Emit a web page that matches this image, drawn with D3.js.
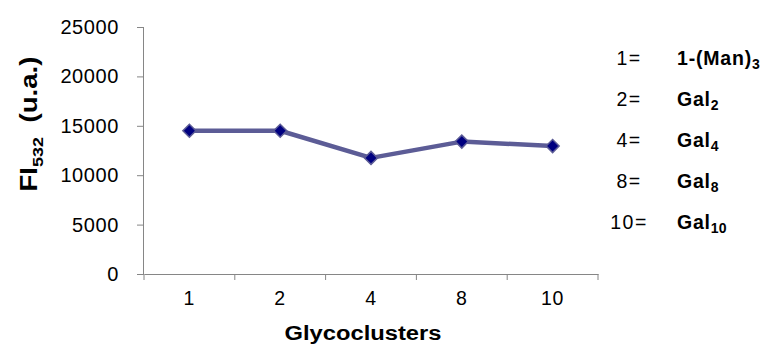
<!DOCTYPE html>
<html>
<head>
<meta charset="utf-8">
<script src="https://cdn.jsdelivr.net/npm/d3@7"></script>
<style>
  html, body { margin: 0; padding: 0; background: #fff; }
  svg { display: block; }
  text { font-family: "Liberation Sans", Arial, sans-serif; fill: #000; }
</style>
</head>
<body>
<svg id="chart" width="773" height="345"></svg>
<script>
const categories = ["1", "2", "4", "8", "10"];
const values = [14500, 14500, 11750, 13400, 12950];
const yTicks = [0, 5000, 10000, 15000, 20000, 25000];
const legendKeys = ["1=", "2=", "4=", "8=", "10="];
const legendNames = ["1-(Man)", "Gal", "Gal", "Gal", "Gal"];
const legendSubs = ["3", "2", "4", "8", "10"];
const xTitle = "Glycoclusters";
const yTitleMain = "FI";
const yTitleSub = "532";
const yTitleRest = "(u.a.)";

const svg = d3.select("#chart");
const axisColor = "#868686";

const x = d3.scaleBand().domain(categories).range([144, 598]);
const y = d3.scaleLinear().domain([0, 25000]).range([274, 27]);

// Y axis
const yAxis = svg.append("g")
  .attr("transform", "translate(144,0)")
  .call(d3.axisLeft(y).tickValues(yTicks).tickSize(7).tickPadding(18).tickFormat(d3.format("d")));
yAxis.select(".domain").attr("stroke", axisColor).attr("d", `M-0.5,${y(25000)}V${y(0)}`);
yAxis.selectAll(".tick line").attr("stroke", axisColor);
yAxis.selectAll(".tick text")
  .attr("font-size", 20).attr("letter-spacing", 0.6).attr("fill", "#000")
  .style("font-family", "'Liberation Sans', Arial, sans-serif");

// X axis
const xAxis = svg.append("g")
  .attr("transform", `translate(0,${y(0)})`)
  .call(d3.axisBottom(x).tickSize(0).tickPadding(17));
xAxis.select(".domain").attr("stroke", axisColor);
xAxis.selectAll(".tick text")
  .attr("font-size", 19.5).attr("letter-spacing", 0.8).attr("fill", "#000")
  .style("font-family", "'Liberation Sans', Arial, sans-serif");
const bounds = categories.map(c => x(c)).concat([x.range()[1]]);
xAxis.selectAll(".bound").data(bounds).join("line")
  .attr("class", "bound")
  .attr("x1", d => d).attr("x2", d => d)
  .attr("y1", 0).attr("y2", 6)
  .attr("stroke", axisColor);

// Line
const cx = c => x(c) + x.bandwidth() / 2;
const pts = categories.map((c, i) => [cx(c), y(values[i])]);
svg.append("path")
  .attr("d", d3.line()(pts))
  .attr("fill", "none")
  .attr("stroke", "#5c5c96")
  .attr("stroke-width", 4.5)
  .attr("stroke-linejoin", "round");

// Markers
const diamond = d3.symbol().type(d3.symbolSquare).size(85);
svg.selectAll(".mk").data(categories).join("path")
  .attr("class", "mk")
  .attr("d", diamond)
  .attr("transform", (c, i) => `translate(${cx(c)},${y(values[i])}) rotate(45)`)
  .attr("fill", "#000080")
  .attr("stroke", "#5c5c96")
  .attr("stroke-width", 1.5);

// Y title
const yt = svg.append("text")
  .attr("transform", "translate(37,124) rotate(-90)")
  .attr("text-anchor", "middle")
  .attr("font-weight", "bold")
  .attr("font-size", 23)
  .attr("textLength", 135)
  .attr("lengthAdjust", "spacingAndGlyphs");
yt.append("tspan").text(yTitleMain);
yt.append("tspan").attr("font-size", 15).attr("dy", 6).text(yTitleSub);
yt.append("tspan").attr("dy", -6).attr("dx", 12).text(yTitleRest);

// X title
svg.append("text")
  .attr("x", 363).attr("y", 340)
  .attr("text-anchor", "middle")
  .attr("font-weight", "bold")
  .attr("font-size", 20)
  .attr("textLength", 157)
  .attr("lengthAdjust", "spacingAndGlyphs")
  .text(xTitle);

// Legend
const lg = svg.append("g");
legendKeys.forEach((k, i) => {
  const by = 64.5 + i * 41;
  lg.append("text")
    .attr("x", 629).attr("y", by)
    .attr("text-anchor", "middle")
    .attr("font-size", 19.5)
    .attr("letter-spacing", 1.5)
    .text(k);
  const t = lg.append("text")
    .attr("x", 677).attr("y", by)
    .attr("font-weight", "bold")
    .attr("font-size", 19.5)
    .attr("letter-spacing", 0.8);
  t.append("tspan").text(legendNames[i]);
  t.append("tspan").attr("font-size", 14).attr("dy", 4).attr("letter-spacing", 0).text(legendSubs[i]);
});
</script>
</body>
</html>
